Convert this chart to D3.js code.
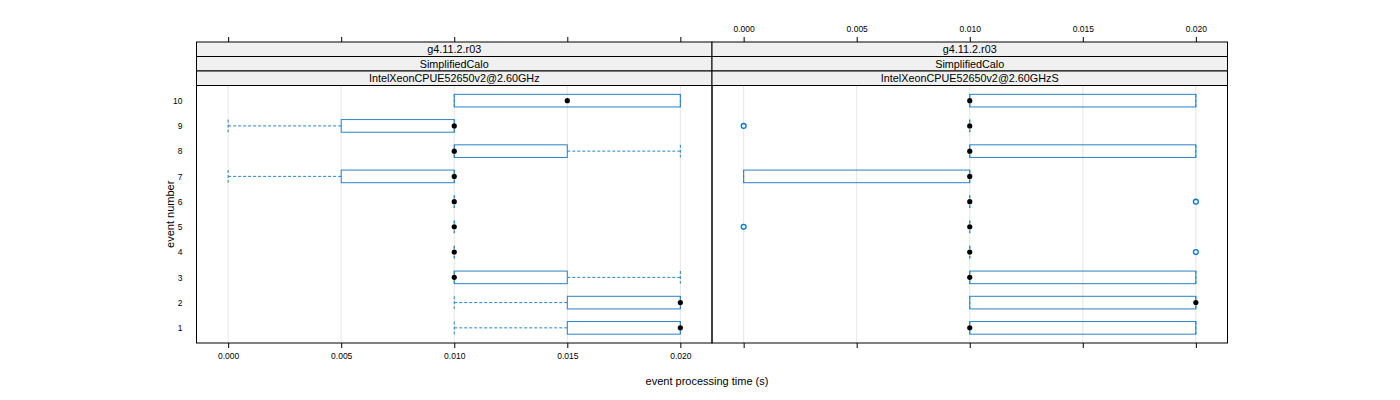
<!DOCTYPE html>
<html><head><meta charset="utf-8">
<script src="https://cdn.jsdelivr.net/npm/d3@7"></script>
<style>body{margin:0;background:#fff}svg{display:block}text{font-family:"Liberation Sans",Arial,sans-serif}</style>
</head><body><svg id="c" width="1400" height="400"></svg>
<script>
// ---- data ----
const events = [1,2,3,4,5,6,7,8,9,10];
const xTicks = [0.000, 0.005, 0.010, 0.015, 0.020];
const stripRow1 = ["g4.11.2.r03", "g4.11.2.r03"];
const stripRow2 = ["SimplifiedCalo", "SimplifiedCalo"];
const stripRow3 = ["IntelXeonCPUE52650v2@2.60GHz", "IntelXeonCPUE52650v2@2.60GHzS"];
// per event: [lower whisker, Q1, median, Q3, upper whisker]
const statsA = [
  [0.010,0.015,0.020,0.020,0.020],
  [0.010,0.015,0.020,0.020,0.020],
  [0.010,0.010,0.010,0.015,0.020],
  [0.010,0.010,0.010,0.010,0.010],
  [0.010,0.010,0.010,0.010,0.010],
  [0.010,0.010,0.010,0.010,0.010],
  [0.000,0.005,0.010,0.010,0.010],
  [0.010,0.010,0.010,0.015,0.020],
  [0.000,0.005,0.010,0.010,0.010],
  [0.010,0.010,0.015,0.020,0.020]
];
const statsB = [
  [0.010,0.010,0.010,0.020,0.020],
  [0.010,0.010,0.020,0.020,0.020],
  [0.010,0.010,0.010,0.020,0.020],
  [0.010,0.010,0.010,0.010,0.010],
  [0.010,0.010,0.010,0.010,0.010],
  [0.010,0.010,0.010,0.010,0.010],
  [0.000,0.000,0.010,0.010,0.010],
  [0.010,0.010,0.010,0.020,0.020],
  [0.010,0.010,0.010,0.010,0.010],
  [0.010,0.010,0.010,0.020,0.020]
];
const outliersA = [];
const outliersB = [[4,0.020],[5,0.000],[6,0.020],[9,0.000]];
const panels = [
  {stats: statsA, outliers: outliersA, labelsBottom: true},
  {stats: statsB, outliers: outliersB, labelsBottom: false}
];

// ---- layout ----
const svg = d3.select("#c");
const pLeft = 196.5, pW = 515.5, pTop = 85.5, pBot = 343;
const stripTop = 42, stripH = 14.5;
const boxCol = "#2b82c4", outCol = "#0a78c0", gridCol = "#e6e6e6";
const y = d3.scaleLinear().domain([0.4, 10.6]).range([pBot, pTop]);
const boxH = (y(1) - y(2)) * 0.5;

panels.forEach((p, i) => {
  const x0 = pLeft + i * pW;
  const x = d3.scaleLinear().domain([-0.0014, 0.0214]).range([x0, x0 + pW]);
  const g = svg.append("g");
  // grid
  g.selectAll(".grid").data(xTicks).join("line")
    .attr("x1", d => x(d)).attr("x2", d => x(d)).attr("y1", pTop).attr("y2", pBot)
    .attr("stroke", gridCol).attr("stroke-width", 1);
  // strips
  [stripRow1[i], stripRow2[i], stripRow3[i]].forEach((t, k) => {
    const sy = stripTop + k * stripH;
    g.append("rect").attr("x", x0).attr("y", sy).attr("width", pW).attr("height", stripH)
      .attr("fill", "#f0f0f0").attr("stroke", "#000").attr("stroke-width", 1);
    g.append("text").attr("x", x0 + pW / 2).attr("y", sy + stripH / 2 + 3.9)
      .attr("text-anchor", "middle").attr("font-size", "10.8px").attr("fill", "#000").text(t);
  });
  // whiskers
  p.stats.forEach((s, j) => {
    const ev = events[j], cy = y(ev);
    const [lo, q1, med, q3, hi] = s;
    const wg = g.append("g").attr("stroke", boxCol).attr("stroke-width", 1).attr("stroke-dasharray", "3,2");
    if (q1 > lo) wg.append("line").attr("x1", x(lo)).attr("x2", x(q1)).attr("y1", cy).attr("y2", cy);
    if (hi > q3) wg.append("line").attr("x1", x(q3)).attr("x2", x(hi)).attr("y1", cy).attr("y2", cy);
    wg.append("line").attr("x1", x(lo)).attr("x2", x(lo)).attr("y1", cy - boxH / 2).attr("y2", cy + boxH / 2);
    wg.append("line").attr("x1", x(hi)).attr("x2", x(hi)).attr("y1", cy - boxH / 2).attr("y2", cy + boxH / 2);
    // box
    if (q3 > q1) {
      g.append("rect").attr("x", x(q1)).attr("y", cy - boxH / 2).attr("width", x(q3) - x(q1)).attr("height", boxH)
        .attr("fill", "none").attr("stroke", boxCol).attr("stroke-width", 1);
    }
    // median dot
    g.append("circle").attr("cx", x(med)).attr("cy", cy).attr("r", 2.6).attr("fill", "#000");
  });
  // outliers
  g.selectAll(".out").data(p.outliers).join("circle")
    .attr("cx", d => x(d[1])).attr("cy", d => y(d[0])).attr("r", 2.4)
    .attr("fill", "none").attr("stroke", outCol).attr("stroke-width", 1.3);
  // panel frame
  g.append("rect").attr("x", x0).attr("y", pTop).attr("width", pW).attr("height", pBot - pTop)
    .attr("fill", "none").attr("stroke", "#000").attr("stroke-width", 1);
  // x axes
  const bottom = d3.axisBottom(x).tickValues(xTicks).tickSize(5).tickPadding(5)
    .tickFormat(p.labelsBottom ? d3.format(".3f") : () => "");
  const ab = g.append("g").attr("transform", `translate(0,${pBot})`).call(bottom);
  const top = d3.axisTop(x).tickValues(xTicks).tickSize(5).tickPadding(5)
    .tickFormat(p.labelsBottom ? () => "" : d3.format(".3f"));
  const at = g.append("g").attr("transform", `translate(0,${stripTop})`).call(top);
  [ab, at].forEach(a => {
    a.select(".domain").remove();
    a.selectAll("line").attr("stroke", "#000");
    a.selectAll("text").attr("font-size", "8.5px").attr("fill", "#000")
      .attr("font-family", '"Liberation Sans",Arial,sans-serif');
  });
});

// y axis labels
const yAx = d3.axisLeft(y).tickValues(events).tickSize(0).tickPadding(14).tickFormat(d3.format("d"));
const ya = svg.append("g").attr("transform", `translate(${pLeft},0)`).call(yAx);
ya.select(".domain").remove();
ya.selectAll("text").attr("font-size", "8.5px").attr("fill", "#000")
  .attr("font-family", '"Liberation Sans",Arial,sans-serif');

// axis titles
svg.append("text").attr("x", 707).attr("y", 385).attr("text-anchor", "middle")
  .attr("font-size", "11px").attr("fill", "#000").text("event processing time (s)");
svg.append("text").attr("transform", `translate(174,${(pTop + pBot) / 2}) rotate(-90)`)
  .attr("text-anchor", "middle").attr("font-size", "11px").attr("fill", "#000").text("event number");
</script></body></html>
